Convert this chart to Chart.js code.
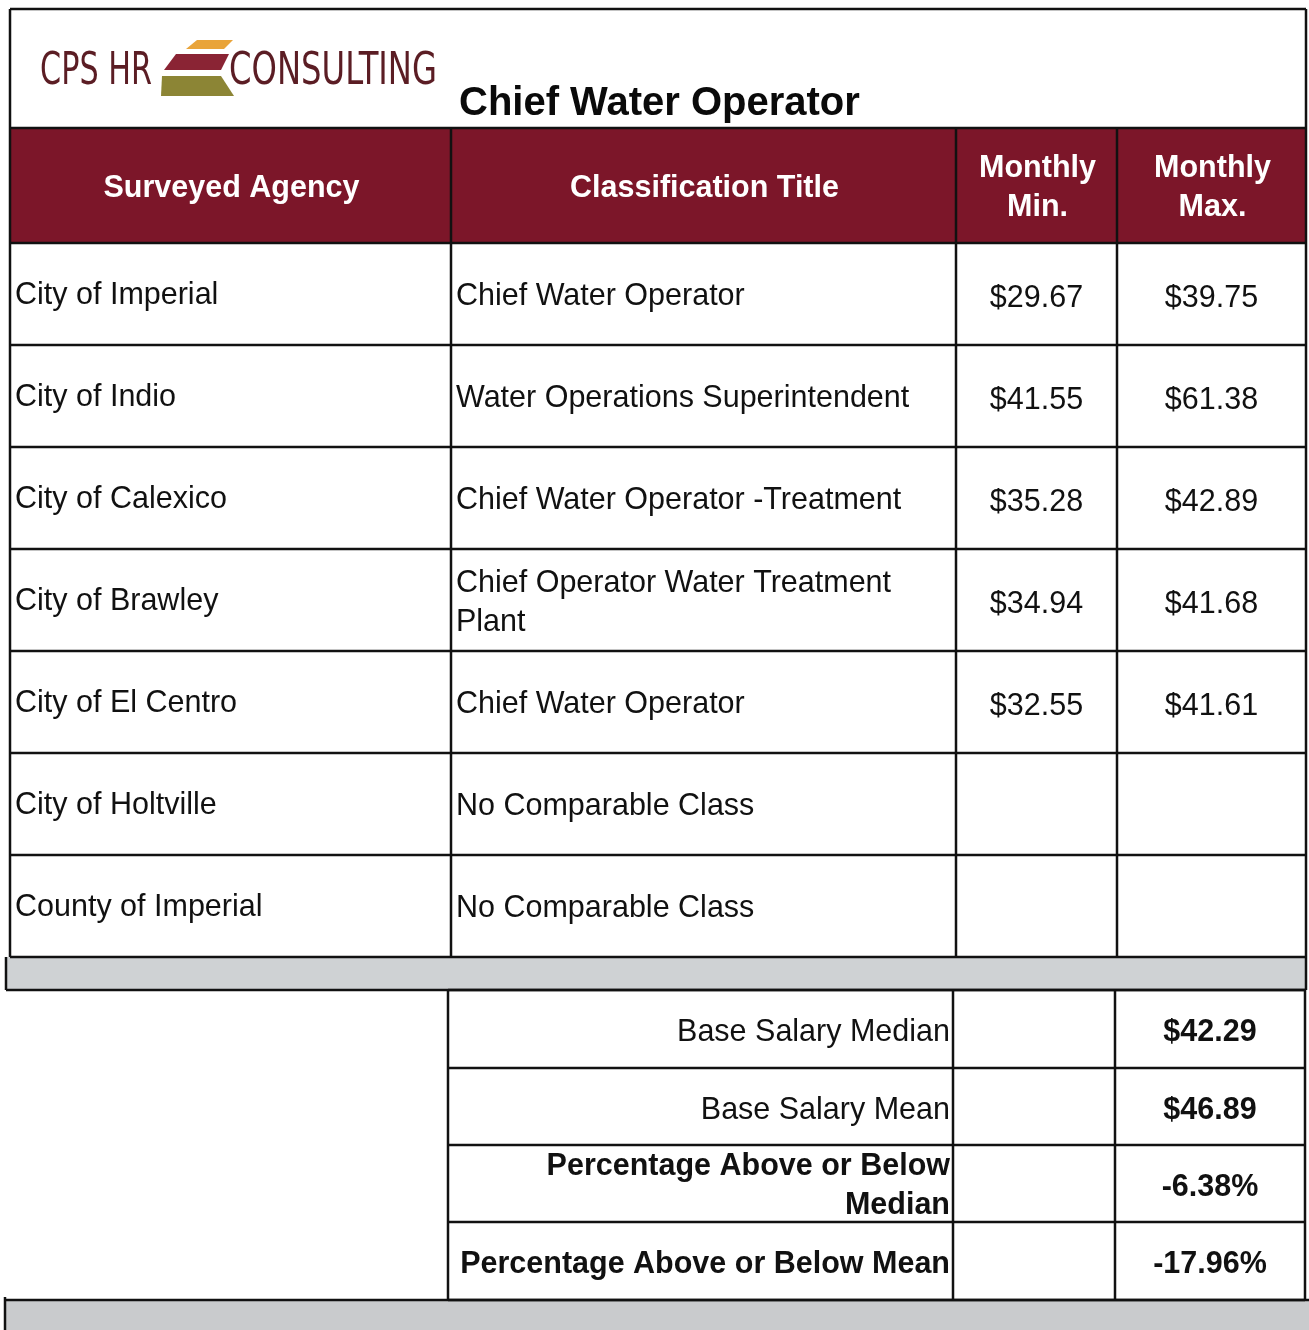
<!DOCTYPE html>
<html>
<head>
<meta charset="utf-8">
<script src="https://cdn.jsdelivr.net/npm/chart.js@4.4.1/dist/chart.umd.min.js"></script>
<style>
  html, body { margin: 0; padding: 0; background: #ffffff; }
  #wrap { width: 1309px; height: 1330px; position: relative; }
  canvas { display: block; }
</style>
</head>
<body>
<div id="wrap"><canvas id="c" width="1309" height="1330"></canvas></div>
<script>
// ---------------- DATA ----------------
const chartTitle = 'Chief Water Operator';
const logoLeft = 'CPS HR';
const logoRight = 'CONSULTING';
const headers = ['Surveyed Agency', 'Classification Title', 'Monthly Min.', 'Monthly Max.'];
const agencies = ['City of Imperial', 'City of Indio', 'City of Calexico', 'City of Brawley',
                  'City of El Centro', 'City of Holtville', 'County of Imperial'];
const titles = ['Chief Water Operator', 'Water Operations Superintendent', 'Chief Water Operator -Treatment',
                'Chief Operator Water Treatment Plant', 'Chief Water Operator', 'No Comparable Class',
                'No Comparable Class'];
const monthlyMin = [29.67, 41.55, 35.28, 34.94, 32.55, null, null];
const monthlyMax = [39.75, 61.38, 42.89, 41.68, 41.61, null, null];
const summaryLabels = ['Base Salary Median', 'Base Salary Mean', 'Percentage Above or Below Median', 'Percentage Above or Below Mean'];
const summaryValues = [42.29, 46.89, -6.38, -17.96];
const summaryKinds = ['money', 'money', 'pct', 'pct'];

// ---------------- LAYOUT (in scale units) ----------------
const W = 1309, H = 1330;
const colX = [10, 451, 956, 1117, 1306];
const topY = 9, headY = 128, bodyY = 243, rowH = 102;
const bandTop = 957, bandBot = 990;
const sumCols = [448, 953, 1115, 1305];
const sumRows = [990, 1068, 1145, 1222, 1300];
const FONT = "'Liberation Sans', Arial, Helvetica, sans-serif";
const RED = '#7c1629';

const fmtMoney = v => (v === null ? '' : '$' + v.toFixed(2));
const fmtPct = v => v.toFixed(2) + '%';

// data points placed at cell centers (drawn as text by the plugin through the scales)
const cellPoints = [];
agencies.forEach((a, i) => {
  const cy = bodyY + rowH * i + rowH / 2 + 2;
  cellPoints.push({ x: colX[0] + 5, y: cy, text: a, align: 'left', w: colX[1] - colX[0] - 10, bold: false });
  cellPoints.push({ x: colX[1] + 5, y: cy + 1, text: titles[i], align: 'left', w: colX[2] - colX[1] - 12, bold: false });
  cellPoints.push({ x: (colX[2] + colX[3]) / 2, y: cy + 3, text: fmtMoney(monthlyMin[i]), align: 'center', w: 200, bold: false });
  cellPoints.push({ x: (colX[3] + colX[4]) / 2, y: cy + 3, text: fmtMoney(monthlyMax[i]), align: 'center', w: 200, bold: false });
});
summaryLabels.forEach((l, i) => {
  const cy = (sumRows[i] + sumRows[i + 1]) / 2 + 4;
  const bold = i >= 2;
  cellPoints.push({ x: sumCols[1] - 3, y: cy - (i === 2 ? 1 : 0), text: l, align: 'right', w: sumCols[1] - sumCols[0] - 8, bold: bold });
  const v = summaryKinds[i] === 'money' ? fmtMoney(summaryValues[i]) : fmtPct(summaryValues[i]);
  cellPoints.push({ x: (sumCols[2] + sumCols[3]) / 2, y: cy, text: v, align: 'center', w: 200, bold: true });
});
headers.forEach((h, j) => {
  cellPoints.push({ x: (colX[j] + colX[j + 1]) / 2 + 1, y: (headY + bodyY) / 2 + 3, text: h, align: 'center',
                    w: colX[j + 1] - colX[j] - 20, bold: true, color: '#ffffff' });
});

function wrapLines(ctx, text, maxW) {
  const words = text.split(' ');
  const lines = [];
  let cur = '';
  words.forEach(w => {
    const t = cur ? cur + ' ' + w : w;
    if (cur && ctx.measureText(t).width > maxW) { lines.push(cur); cur = w; }
    else cur = t;
  });
  if (cur) lines.push(cur);
  return lines;
}

const tablePlugin = {
  id: 'tablePlugin',
  beforeDatasetsDraw(chart) {
    const ctx = chart.ctx;
    const X = v => chart.scales.x.getPixelForValue(v);
    const Y = v => chart.scales.y.getPixelForValue(v);
    ctx.save();
    ctx.fillStyle = '#ffffff';
    ctx.fillRect(X(0), Y(0), X(W) - X(0), Y(H) - Y(0));

    // header band
    ctx.fillStyle = RED;
    ctx.fillRect(X(colX[0]), Y(headY), X(colX[4]) - X(colX[0]), Y(bodyY) - Y(headY));

    // gray bands
    ctx.fillStyle = '#cfd2d4';
    ctx.fillRect(X(6), Y(bandTop), X(1306) - X(6), Y(bandBot) - Y(bandTop));
    ctx.fillStyle = '#c9cbcd';
    ctx.fillRect(X(5), Y(sumRows[4]), X(W) - X(5), Y(H) - Y(sumRows[4]));

    // logo
    ctx.fillStyle = '#5b1d24';
    ctx.font = '44px ' + "'DejaVu Sans', sans-serif";
    ctx.textAlign = 'left';
    ctx.textBaseline = 'alphabetic';
    ctx.fillText(logoLeft, X(40), Y(84), X(152) - X(40));
    ctx.fillText(logoRight, X(229), Y(84), X(437) - X(229));
    const poly = (pts, col) => {
      ctx.fillStyle = col; ctx.beginPath();
      pts.forEach((p, k) => k ? ctx.lineTo(X(p[0]), Y(p[1])) : ctx.moveTo(X(p[0]), Y(p[1])));
      ctx.closePath(); ctx.fill();
    };
    poly([[197, 40], [233, 40], [224, 49], [186, 49]], '#e9a43a');
    poly([[176, 54], [229, 54], [221, 70], [164, 70]], '#8a2434');
    poly([[162, 76], [221, 76], [234, 96], [161, 96]], '#8c8535');

    // title
    ctx.fillStyle = '#0a0a0a';
    ctx.font = 'bold 40px ' + FONT;
    ctx.fillText(chartTitle, X(459), Y(115));

    // grid lines
    ctx.strokeStyle = '#111111';
    ctx.lineWidth = 2.5;
    const line = (x1, y1, x2, y2) => { ctx.beginPath(); ctx.moveTo(X(x1), Y(y1)); ctx.lineTo(X(x2), Y(y2)); ctx.stroke(); };
    line(colX[0], topY, colX[4], topY);
    line(colX[0], headY, colX[4], headY);
    for (let i = 0; i <= agencies.length; i++) {
      const y = bodyY + rowH * i;
      line(colX[0], y, colX[4], y);
    }
    line(6, bandBot, 1306, bandBot);
    line(colX[0], topY, colX[0], bandTop);
    line(6, bandTop, 6, bandBot);
    line(colX[4], topY, colX[4], bandBot);
    for (let j = 1; j < colX.length - 1; j++) line(colX[j], headY, colX[j], bandTop);
    sumRows.forEach(y => line(sumCols[0], y, sumCols[3], y));
    sumCols.forEach(x => line(x, bandBot, x, sumRows[4]));
    line(5, sumRows[4], W, sumRows[4]);
    line(5, sumRows[4] - 3, 5, H);
    ctx.restore();
  },
  afterDatasetsDraw(chart) {
    const ctx = chart.ctx;
    const meta = chart.getDatasetMeta(0);
    const data = chart.data.datasets[0].data;
    ctx.save();
    ctx.textBaseline = 'middle';
    meta.data.forEach((el, i) => {
      const d = data[i];
      if (!d.text) return;
      ctx.font = (d.bold ? 'bold ' : '') + '30.5px ' + FONT;
      ctx.fillStyle = d.color || '#111111';
      ctx.textAlign = d.align;
      const lines = wrapLines(ctx, d.text, d.w);
      const lh = 39;
      const y0 = el.y - (lines.length - 1) * lh / 2;
      lines.forEach((ln, k) => ctx.fillText(ln, el.x, y0 + k * lh));
    });
    ctx.restore();
  }
};

new Chart(document.getElementById('c'), {
  type: 'scatter',
  data: { datasets: [{ data: cellPoints, pointRadius: 0, pointHoverRadius: 0, showLine: false }] },
  options: {
    responsive: false,
    animation: false,
    devicePixelRatio: 1,
    layout: { padding: 0 },
    events: [],
    plugins: { legend: { display: false }, tooltip: { enabled: false }, title: { display: false } },
    scales: {
      x: { type: 'linear', min: 0, max: W, display: false },
      y: { type: 'linear', min: 0, max: H, reverse: true, display: false }
    }
  },
  plugins: [tablePlugin]
});
</script>
</body>
</html>
